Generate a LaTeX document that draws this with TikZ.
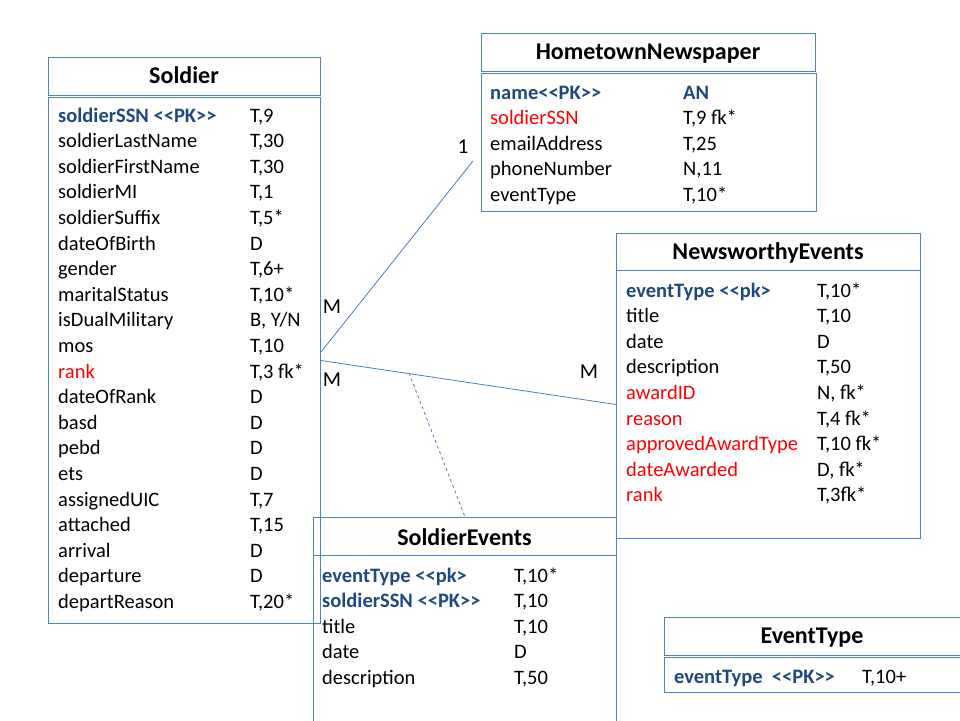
\documentclass[tikz,border=0pt]{standalone}
\usepackage{fontspec}
\setmainfont{Carlito}
\definecolor{bx}{HTML}{4F81BD}
\definecolor{pkc}{HTML}{1F497D}
\definecolor{fkc}{HTML}{FF0000}
\definecolor{lnc}{HTML}{4A7EBB}
\newcommand\LL{<\kern0pt<}
\newcommand\GG{>\kern0pt>}
\begin{document}
\begin{tikzpicture}[x=1pt,y=-1pt,
  box/.style={draw=bx, line width=1pt, anchor=north west, inner sep=0pt},
  ttl/.style={anchor=base, inner sep=0pt, font=\fontsize{24}{28}\selectfont\bfseries},
  fld/.style={anchor=base west, inner sep=0pt, font=\fontsize{20.5}{25}\selectfont},
  pk/.style={fld, text=pkc, font=\fontsize{20.5}{25}\selectfont\bfseries},
  fk/.style={fld, text=fkc},
  card/.style={anchor=center, inner sep=0pt, font=\fontsize{21.3}{25}\selectfont},
  conn/.style={draw=lnc, line width=0.8pt}]
\useasboundingbox (0,0) rectangle (960,720);
\clip (0,0) rectangle (960,720);

% SoldierEvents
\node[box, minimum width=303pt, minimum height=38pt] (sehead) at (313,517) {};
\node[box, minimum width=303pt, minimum height=175pt] (sebody) at (313,555) {};
\node[ttl] (set) at (464.5,545) {SoldierEvents};
\node[pk] (se0a) at (322,582) {eventType \LL pk>};   \node[fld] (se0b) at (514,582) {T,10*};
\node[pk] (se1a) at (322,607.6) {soldierSSN \LL PK\GG}; \node[fld] (se1b) at (514,607.6) {T,10};
\node[fld] (se2a) at (322,633.2) {title};             \node[fld] (se2b) at (514,633.2) {T,10};
\node[fld] (se3a) at (322,658.8) {date};              \node[fld] (se3b) at (514,658.8) {D};
\node[fld] (se4a) at (322,684.4) {description};       \node[fld] (se4b) at (514,684.4) {T,50};

% Soldier
\node[box, minimum width=272pt, minimum height=38pt] (shead) at (48,57) {};
\node[box, minimum width=272pt, minimum height=526pt] (sbody) at (48,97) {};
\node[ttl] (st) at (184,83) {Soldier};
\node[pk] (s0a) at (58,122) {soldierSSN \LL PK\GG}; \node[fld] (s0b) at (250,122) {T,9};
\node[fld] (s1a) at (58,147.6) {soldierLastName};   \node[fld] (s1b) at (250,147.6) {T,30};
\node[fld] (s2a) at (58,173.2) {soldierFirstName};  \node[fld] (s2b) at (250,173.2) {T,30};
\node[fld] (s3a) at (58,198.8) {soldierMI};         \node[fld] (s3b) at (250,198.8) {T,1};
\node[fld] (s4a) at (58,224.4) {soldierSuffix};     \node[fld] (s4b) at (250,224.4) {T,5*};
\node[fld] (s5a) at (58,250.0) {dateOfBirth};       \node[fld] (s5b) at (250,250.0) {D};
\node[fld] (s6a) at (58,275.6) {gender};            \node[fld] (s6b) at (250,275.6) {T,6+};
\node[fld] (s7a) at (58,301.2) {maritalStatus};     \node[fld] (s7b) at (250,301.2) {T,10*};
\node[fld] (s8a) at (58,326.8) {isDualMilitary};    \node[fld] (s8b) at (250,326.8) {B, Y/N};
\node[fld] (s9a) at (58,352.4) {mos};               \node[fld] (s9b) at (250,352.4) {T,10};
\node[fk]  (s10a) at (58,378.0) {rank};             \node[fld] (s10b) at (250,378.0) {T,3 fk*};
\node[fld] (s11a) at (58,403.6) {dateOfRank};       \node[fld] (s11b) at (250,403.6) {D};
\node[fld] (s12a) at (58,429.2) {basd};             \node[fld] (s12b) at (250,429.2) {D};
\node[fld] (s13a) at (58,454.8) {pebd};             \node[fld] (s13b) at (250,454.8) {D};
\node[fld] (s14a) at (58,480.4) {ets};              \node[fld] (s14b) at (250,480.4) {D};
\node[fld] (s15a) at (58,506.0) {assignedUIC};      \node[fld] (s15b) at (250,506.0) {T,7};
\node[fld] (s16a) at (58,531.6) {attached};         \node[fld] (s16b) at (250,531.6) {T,15};
\node[fld] (s17a) at (58,557.2) {arrival};          \node[fld] (s17b) at (250,557.2) {D};
\node[fld] (s18a) at (58,582.8) {departure};        \node[fld] (s18b) at (250,582.8) {D};
\node[fld] (s19a) at (58,608.4) {departReason};     \node[fld] (s19b) at (250,608.4) {T,20*};

% HometownNewspaper
\node[box, minimum width=334pt, minimum height=38pt] (hhead) at (481,33) {};
\node[box, minimum width=335pt, minimum height=138pt] (hbody) at (481,73) {};
\node[ttl] (ht) at (648,59.5) {HometownNewspaper};
\node[pk] (h0a) at (490,99) {name\LL PK\GG};      \node[pk] (h0b) at (683,99) {AN};
\node[fk] (h1a) at (490,124.6) {soldierSSN};      \node[fld] (h1b) at (683,124.6) {T,9 fk*};
\node[fld] (h2a) at (490,150.2) {emailAddress};   \node[fld] (h2b) at (683,150.2) {T,25};
\node[fld] (h3a) at (490,175.8) {phoneNumber};    \node[fld] (h3b) at (683,175.8) {N,11};
\node[fld] (h4a) at (490,201.4) {eventType};      \node[fld] (h4b) at (683,201.4) {T,10*};

% NewsworthyEvents
\node[box, minimum width=304pt, minimum height=37pt] (nhead) at (616,233) {};
\node[box, minimum width=304pt, minimum height=268pt] (nbody) at (616,270) {};
\node[ttl] (nt) at (768,259.5) {NewsworthyEvents};
\node[pk] (n0a) at (626,297) {eventType \LL pk>};  \node[fld] (n0b) at (817,297) {T,10*};
\node[fld] (n1a) at (626,322.6) {title};           \node[fld] (n1b) at (817,322.6) {T,10};
\node[fld] (n2a) at (626,348.2) {date};            \node[fld] (n2b) at (817,348.2) {D};
\node[fld] (n3a) at (626,373.8) {description};     \node[fld] (n3b) at (817,373.8) {T,50};
\node[fk] (n4a) at (626,399.4) {awardID};          \node[fld] (n4b) at (817,399.4) {N, fk*};
\node[fk] (n5a) at (626,425.0) {reason};           \node[fld] (n5b) at (817,425.0) {T,4 fk*};
\node[fk] (n6a) at (626,450.6) {approvedAwardType};\node[fld] (n6b) at (817,450.6) {T,10 fk*};
\node[fk] (n7a) at (626,476.2) {dateAwarded};      \node[fld] (n7b) at (817,476.2) {D, fk*};
\node[fk] (n8a) at (626,501.8) {rank};             \node[fld] (n8b) at (817,501.8) {T,3fk*};

% EventType
\node[box, minimum width=305pt, minimum height=38pt] (ehead) at (664,617) {};
\node[box, minimum width=305pt, minimum height=35pt] (ebody) at (664,657) {};
\node[ttl] (et) at (812,643.5) {EventType};
\node[pk] (e0a) at (674,683) {eventType \ \LL PK\GG}; \node[fld] (e0b) at (862,683) {T,10+};

% connectors
\coordinate (sA) at (321,352);
\coordinate (hA) at (473,161);
\coordinate (dA) at (409,373);
\draw[conn] (sA) -- (hA);
\draw[conn] (sbody.east) -- (nbody.west);
\draw[conn, dashed] (dA) -- (sehead.north);

% cardinalities
\node[card] (c1) at (463,147) {1};
\node[card] (c2) at (332,307) {M};
\node[card] (c3) at (332,380) {M};
\node[card] (c4) at (589,372) {M};
\end{tikzpicture}
\end{document}
